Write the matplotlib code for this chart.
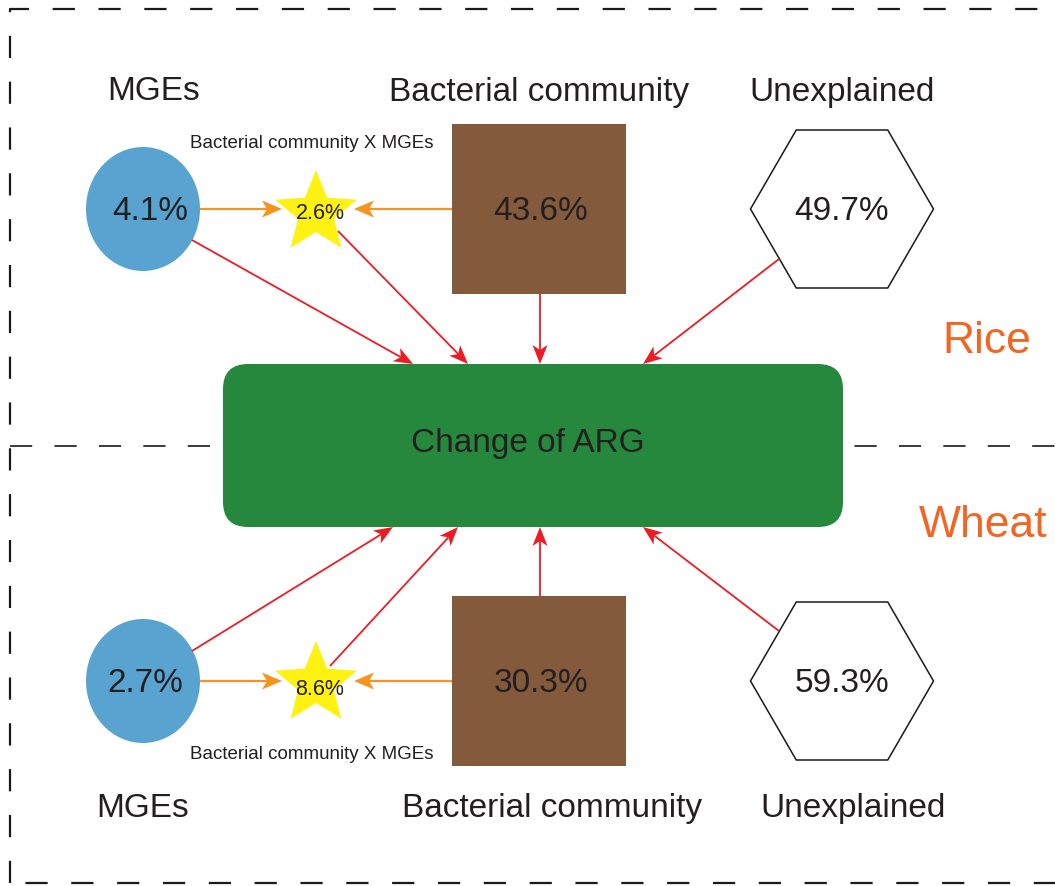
import numpy as np
import matplotlib
matplotlib.use("Agg")
from matplotlib import pyplot as plt
from matplotlib.patches import Ellipse, Rectangle, Polygon, FancyBboxPatch

plt.rcParams['font.family'] = ['Liberation Sans', 'DejaVu Sans']
plt.rcParams['lines.scale_dashes'] = False

# data
panels = ["Rice", "Wheat"]
mges_pct = ["4.1%", "2.7%"]
interaction_pct = ["2.6%", "8.6%"]
bacteria_pct = ["43.6%", "30.3%"]
unexplained_pct = ["49.7%", "59.3%"]
node_names = ["MGEs", "Bacterial community", "Unexplained"]
interaction_name = "Bacterial community X MGEs"
target_name = "Change of ARG"

TXT = '#231f20'
RED = '#ed1c24'
ORANGE = '#f7941d'
DY = 2  # small nudge so text sits on the cap-height centre

fig = plt.figure(figsize=(10.55, 8.87), dpi=100)
ax = fig.add_axes([0, 0, 1, 1])
ax.set_xlim(0, 1055)
ax.set_ylim(887, 0)
ax.axis('off')

# dashed frame and separator (behind everything)
ax.plot([10, 10, 1070, 1070, 10], [884, 10, 10, 884, 884], color='#1a1a1a',
        lw=1.6, dashes=(16, 17), zorder=0)
ax.plot([10, 1055], [447, 447], color='#1a1a1a', lw=1.2, dashes=(16, 16), zorder=0)

# central box
ax.add_patch(FancyBboxPatch((248, 390), 570, 113,
                            boxstyle="round,pad=25,rounding_size=25",
                            fc='#25883c', ec='none', zorder=2))
ax.text(528, 442 + DY, target_name, fontsize=24, color=TXT, ha='center', va='center', zorder=5)


def star(cx, cy, r_out, r_in):
    ang = np.deg2rad(-90 + 36 * np.arange(10))
    r = np.where(np.arange(10) % 2 == 0, r_out, r_in)
    return np.column_stack([cx + r * np.cos(ang), cy + r * np.sin(ang)])


def hexagon(cx, cy, w, h):
    return [(cx - w / 2, cy), (cx - w / 4, cy - h / 2), (cx + w / 4, cy - h / 2),
            (cx + w / 2, cy), (cx + w / 4, cy + h / 2), (cx - w / 4, cy + h / 2)]


def arrow(p0, p1, color, lw, hl, hw, notch=5):
    p0 = np.array(p0, float)
    p1 = np.array(p1, float)
    d = (p1 - p0) / np.hypot(*(p1 - p0))
    n = np.array([-d[1], d[0]])
    back = p1 - d * hl
    ax.plot([p0[0], (back + d * notch)[0]], [p0[1], (back + d * notch)[1]],
            color=color, lw=lw, solid_capstyle='butt', zorder=3)
    head = [p1, back + n * hw / 2, back + d * notch, back - n * hw / 2]
    ax.add_patch(Polygon(head, closed=True, fc=color, ec='none', zorder=4))


rows = [
    dict(y=210, sy=214, ly=90, iy=141, star_txt=212, tx=150,
         src=[(192, 241), (338, 232), (540, 295), (779, 260)],
         dst=[(413, 365), (468, 365), (540, 365), (643, 365)],
         lx=[154, 539, 842], side_y=340),
    dict(y=682, sy=685, ly=807, iy=753, star_txt=688, tx=145,
         src=[(192, 652), (330, 667), (540, 597), (779, 632)],
         dst=[(393, 528), (458, 528), (540, 528), (643, 528)],
         lx=[143, 552, 853], side_y=524),
]
side_x = [987, 983]

for i, row in enumerate(rows):
    y = row['y']
    # MGEs ellipse
    ax.add_patch(Ellipse((143, y), 114, 124, fc='#59a3d0', ec='none', zorder=2))
    ax.text(row['tx'], y + DY, mges_pct[i], fontsize=24, color=TXT,
            ha='center', va='center', zorder=5)
    # bacterial community square
    ax.add_patch(Rectangle((452, y - 85), 174, 170, fc='#845a3c', ec='none', zorder=2))
    ax.text(541, y + DY, bacteria_pct[i], fontsize=24, color=TXT,
            ha='center', va='center', zorder=5)
    # unexplained hexagon
    ax.add_patch(Polygon(hexagon(842, y, 183, 158), closed=True, fc='white',
                         ec='#1a1a1a', lw=1.1, zorder=2))
    ax.text(842, y + DY, unexplained_pct[i], fontsize=24, color=TXT,
            ha='center', va='center', zorder=5)
    # interaction star
    ax.add_patch(Polygon(star(316, row['sy'], 43, 19), closed=True, fc='#fff212',
                         ec='none', zorder=2))
    ax.text(320, row['star_txt'] + DY, interaction_pct[i], fontsize=15.5, color=TXT,
            ha='center', va='center', zorder=5)
    ax.text(312, row['iy'] + DY, interaction_name, fontsize=13.5, color=TXT,
            ha='center', va='center')
    # node titles
    for name, lx in zip(node_names, row['lx']):
        ax.text(lx, row['ly'] + DY, name, fontsize=24, color=TXT, ha='center', va='center')
    # orange arrows into star
    arrow((200, y), (282, y), ORANGE, 1.6, 20, 17)
    arrow((452, y), (354, y), ORANGE, 1.6, 20, 17)
    # red arrows into box
    for p0, p1 in zip(row['src'], row['dst']):
        arrow(p0, p1, RED, 1.3, 19, 15)
    # crop label
    ax.text(side_x[i], row['side_y'] + DY, panels[i], fontsize=32, color='#f26522',
            ha='center', va='center')

fig.savefig('out.png', dpi=100, facecolor='white')
